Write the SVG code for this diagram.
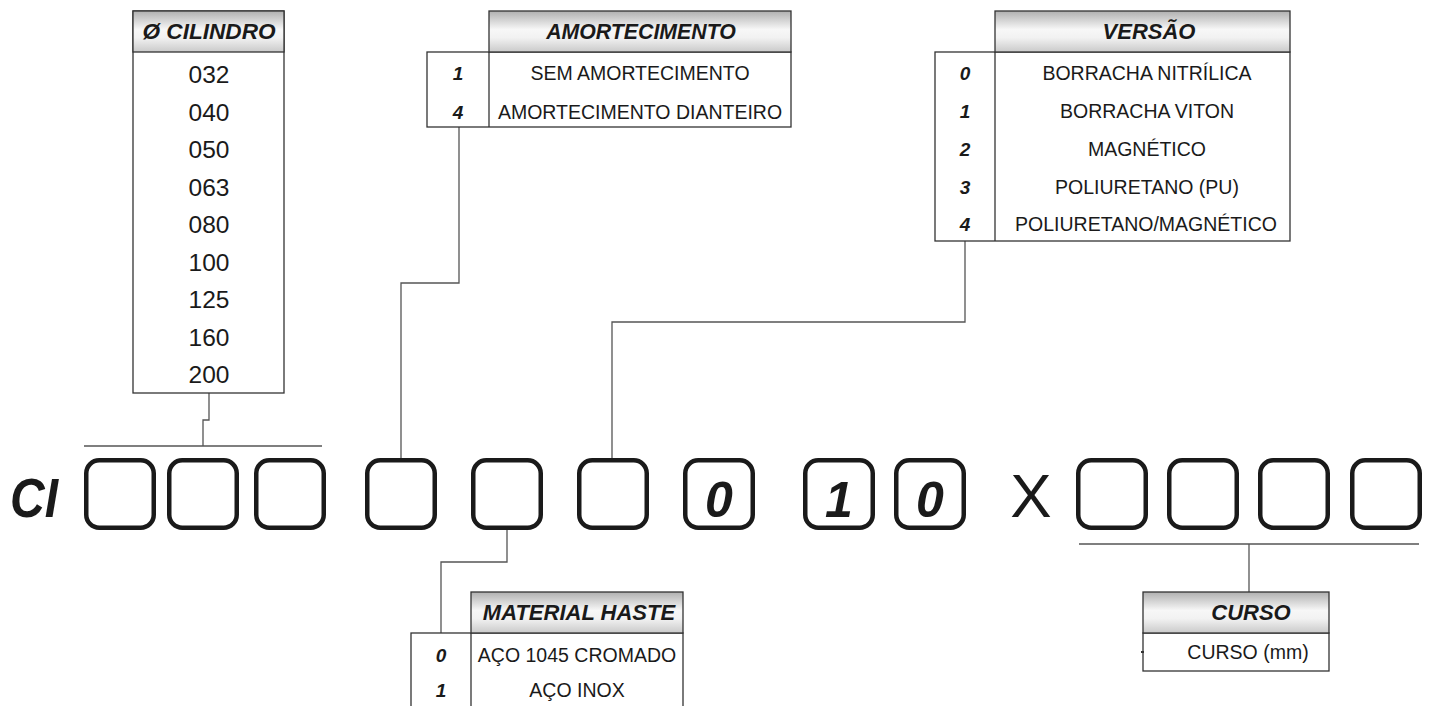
<svg xmlns="http://www.w3.org/2000/svg" width="1432" height="706" viewBox="0 0 1432 706">
<style>
text{font-family:"Liberation Sans",Arial,sans-serif;fill:#1a1a1a}
.hd{font-size:22px;font-weight:bold;font-style:italic;text-anchor:middle}
.rw{font-size:19.5px;text-anchor:middle}
.cv{font-size:24.5px;text-anchor:middle}
.nm{font-size:19px;font-weight:bold;font-style:italic;text-anchor:middle}
.tb{fill:#fff;stroke:#333;stroke-width:1.3}
.th{fill:url(#hg);stroke:#333;stroke-width:1.3}
.dv{stroke:#333;stroke-width:1.3}
.bx{fill:none;stroke:#1a1a1a;stroke-width:4.5}
.dg{font-size:50px;font-weight:bold;font-style:italic;text-anchor:middle}
.cn{fill:none;stroke:#555;stroke-width:1.3}
</style>
<defs>
<linearGradient id="hg" x1="0" y1="0" x2="0" y2="1">
<stop offset="0" stop-color="#b0b0b0"/>
<stop offset="0.45" stop-color="#f7f7f7"/>
<stop offset="0.65" stop-color="#f2f2f2"/>
<stop offset="1" stop-color="#cacaca"/>
</linearGradient>
</defs>
<rect width="1432" height="706" fill="#fff"/>

<g id="connectors">
<polyline class="cn" points="209,393 209,420 203,420 203,446"/>
<line class="cn" x1="84" y1="446" x2="322" y2="446"/>
<polyline class="cn" points="459,127 459,283 401,283 401,458"/>
<polyline class="cn" points="965,241 965,322 612,322 612,458"/>
<polyline class="cn" points="507,530 507,562 441,562 441,633"/>
<line class="cn" x1="1079" y1="544" x2="1419" y2="544"/>
<line class="cn" x1="1249" y1="544" x2="1249" y2="592"/>
</g>

<g id="cilindro">
<rect class="tb" x="133" y="11" width="151" height="382"/>
<rect class="th" x="133" y="11" width="151" height="41"/>
<text class="hd" x="209" y="39" style="font-size:22.6px">Ø CILINDRO</text>
<text class="cv" x="209" y="83">032</text>
<text class="cv" x="209" y="121">040</text>
<text class="cv" x="209" y="158">050</text>
<text class="cv" x="209" y="196">063</text>
<text class="cv" x="209" y="233">080</text>
<text class="cv" x="209" y="271">100</text>
<text class="cv" x="209" y="308">125</text>
<text class="cv" x="209" y="346">160</text>
<text class="cv" x="209" y="383">200</text>
</g>

<g id="amortecimento">
<rect class="tb" x="427" y="52" width="364" height="75"/>
<rect class="th" x="489" y="11" width="302" height="41"/>
<line class="dv" x1="489" y1="52" x2="489" y2="127"/>
<text class="hd" x="641" y="39" style="font-size:21.3px">AMORTECIMENTO</text>
<text class="nm" x="458" y="80">1</text>
<text class="rw" x="640" y="80">SEM AMORTECIMENTO</text>
<text class="nm" x="458" y="119">4</text>
<text class="rw" x="640" y="119">AMORTECIMENTO DIANTEIRO</text>
</g>

<g id="versao">
<rect class="tb" x="935" y="52" width="355" height="189"/>
<rect class="th" x="995" y="11" width="295" height="41"/>
<line class="dv" x1="995" y1="52" x2="995" y2="241"/>
<text class="hd" x="1149" y="39">VERSÃO</text>
<text class="nm" x="965" y="80">0</text>
<text class="rw" x="1147" y="80">BORRACHA NITRÍLICA</text>
<text class="nm" x="965" y="118">1</text>
<text class="rw" x="1147" y="118">BORRACHA VITON</text>
<text class="nm" x="965" y="156">2</text>
<text class="rw" x="1147" y="156">MAGNÉTICO</text>
<text class="nm" x="965" y="194">3</text>
<text class="rw" x="1147" y="194">POLIURETANO (PU)</text>
<text class="nm" x="965" y="231">4</text>
<text class="rw" x="1146" y="231">POLIURETANO/MAGNÉTICO</text>
</g>

<g id="material">
<rect class="tb" x="411" y="633" width="272" height="90"/>
<rect class="th" x="471" y="592" width="212" height="41"/>
<line class="dv" x1="471" y1="633" x2="471" y2="723"/>
<text class="hd" x="579" y="620">MATERIAL HASTE</text>
<text class="nm" x="441" y="662">0</text>
<text class="rw" x="577" y="662">AÇO 1045 CROMADO</text>
<text class="nm" x="441" y="697">1</text>
<text class="rw" x="577" y="697">AÇO INOX</text>
</g>

<g id="curso">
<rect class="tb" x="1143" y="633" width="186" height="38"/>
<rect class="th" x="1143" y="592" width="186" height="41"/>
<line x1="1141" y1="652" x2="1144" y2="652" stroke="#333" stroke-width="2"/>
<text class="hd" x="1251" y="620">CURSO</text>
<text class="rw" x="1248" y="659">CURSO (mm)</text>
</g>

<g id="code">
<text x="10" y="517" font-size="56" font-weight="bold" font-style="italic" textLength="48" lengthAdjust="spacingAndGlyphs">CI</text>
<rect class="bx" x="86.25" y="460.25" width="67.5" height="67.5" rx="13"/>
<rect class="bx" x="169.25" y="460.25" width="67.5" height="67.5" rx="13"/>
<rect class="bx" x="256.25" y="460.25" width="67.5" height="67.5" rx="13"/>
<rect class="bx" x="367.25" y="460.25" width="67.5" height="67.5" rx="13"/>
<rect class="bx" x="473.25" y="460.25" width="67.5" height="67.5" rx="13"/>
<rect class="bx" x="579.25" y="460.25" width="67.5" height="67.5" rx="13"/>
<rect class="bx" x="685.25" y="460.25" width="67.5" height="67.5" rx="13"/>
<text class="dg" x="719" y="517">0</text>
<rect class="bx" x="805.25" y="460.25" width="67.5" height="67.5" rx="13"/>
<text class="dg" x="839" y="517">1</text>
<rect class="bx" x="896.25" y="460.25" width="67.5" height="67.5" rx="13"/>
<text class="dg" x="930" y="517">0</text>
<text x="1031" y="517" font-size="62" text-anchor="middle">X</text>
<rect class="bx" x="1078.25" y="460.25" width="67.5" height="67.5" rx="13"/>
<rect class="bx" x="1169.25" y="460.25" width="67.5" height="67.5" rx="13"/>
<rect class="bx" x="1260.25" y="460.25" width="67.5" height="67.5" rx="13"/>
<rect class="bx" x="1352.25" y="460.25" width="67.5" height="67.5" rx="13"/>
</g>
</svg>
